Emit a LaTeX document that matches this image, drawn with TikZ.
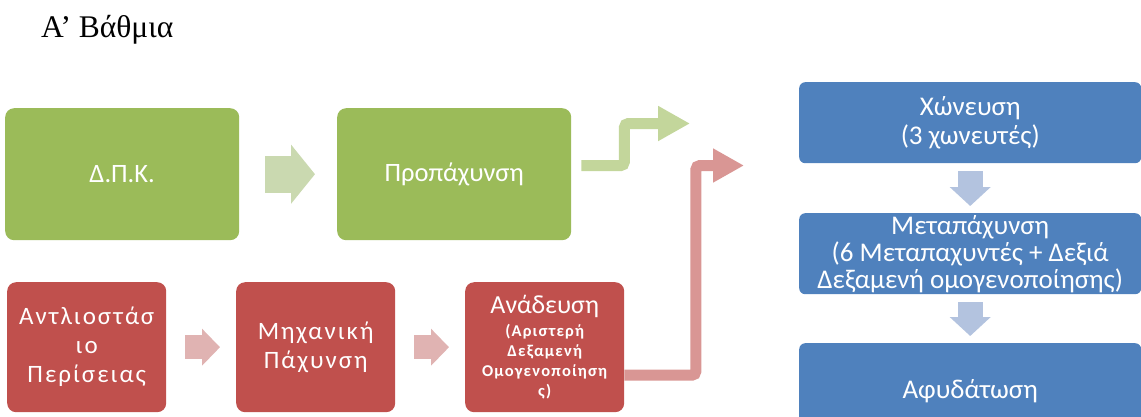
\documentclass[tikz,border=0pt]{standalone}
\usepackage{fontspec}
\setmainfont{Liberation Serif}
\newfontfamily\boxfont{Carlito}
\newfontfamily\spacedfont[LetterSpace=8]{Carlito}
\newfontfamily\smallfont[LetterSpace=7]{Carlito}
\usetikzlibrary{arrows.meta, positioning}
\definecolor{grn}{HTML}{9BBB59}
\definecolor{grnlight}{HTML}{CAD9B0}
\definecolor{grnbent}{HTML}{C3D69B}
\definecolor{rd}{HTML}{C0504D}
\definecolor{rdlight}{HTML}{E0B3B2}
\definecolor{rdbent}{HTML}{D99694}
\definecolor{bl}{HTML}{4F81BD}
\definecolor{bllight}{HTML}{B3C3DF}

\begin{document}
\begin{tikzpicture}[x=1pt, y=-1pt,
	box/.style={rounded corners=9pt, anchor=north west, inner sep=0pt, align=center, text=white, font=\boxfont\fontsize{26.5}{29}\selectfont},
	gbox/.style={box, fill=grn, minimum width=234pt, minimum height=132pt},
	rbox/.style={box, fill=rd, minimum width=159pt, minimum height=130pt, font=\spacedfont\fontsize{25}{29}\selectfont},
	bbox/.style={box, fill=bl, rounded corners=6pt, minimum width=342pt, minimum height=81pt, font=\boxfont\fontsize{27}{29}\selectfont}]

\useasboundingbox (0,0) rectangle (1141,416);

\node[anchor=base west, inner sep=0pt, font=\fontsize{31.5}{34}\selectfont] (title) at (41,37) {Α’ Βάθμια};

% green row
\node[gbox] (dpk) at (5,108) {Δ.Π.Κ.};
\node[gbox] (prop) at (337,108) {Προπάχυνση};

% red row
\node[rbox] (pump) at (7,282) {Αντλιοστάσ\\ιο\\Περίσειας};
\node[rbox] (mech) at (236,282) {Μηχανική\\Πάχυνση};
\node[rbox, font=\smallfont\bfseries\fontsize{16.5}{20}\selectfont] (mix) at (465,282) {{\boxfont\mdseries\fontsize{26}{29}\selectfont Ανάδευση}\\[2.5pt](Αριστερή\\Δεξαμενή\\Ομογενοποίηση\\ς)};

% blue column
\node[bbox] (hon) at (799,82) {Χώνευση\\(3 χωνευτές)};
\node[bbox, font=\boxfont\fontsize{27}{27}\selectfont] (meta) at (799,213) {Μεταπάχυνση\\(6 Μεταπαχυντές + Δεξιά\\Δεξαμενή ομογενοποίησης)};
\node[bbox, minimum height=100pt] (afy) at (799,343) {\raisebox{9pt}{Αφυδάτωση}};

% block arrows
\draw[grnlight, line width=37pt, -{Triangle[length=24pt, width=58pt]}, shorten <=26pt, shorten >=22pt] (dpk) -- (prop);
\draw[rdlight, line width=24pt, -{Triangle[length=18pt, width=36pt]}, shorten <=19pt, shorten >=16pt] (pump) -- (mech);
\draw[rdlight, line width=24pt, -{Triangle[length=18pt, width=36pt]}, shorten <=19pt, shorten >=16pt] (mech) -- (mix);
\draw[bllight, line width=25pt, -{Triangle[length=19pt, width=40pt]}, shorten <=8pt, shorten >=7pt] (hon) -- (meta);
\draw[bllight, line width=25pt, -{Triangle[length=19pt, width=40pt]}, shorten <=8pt, shorten >=7pt] (meta) -- (afy.north -| meta.south);

\coordinate (gtip) at (690,123.5);
\coordinate (rtip) at (744,165.5);
\draw[grnbent, line width=11pt, rounded corners=4pt, -{Triangle[length=32pt, width=33pt]}] ([xshift=10pt, yshift=8.5pt]prop.east) -- ++(43,0) |- (gtip);
\draw[rdbent, line width=11pt, rounded corners=4pt, -{Triangle[length=31pt, width=32pt]}] ([yshift=-28pt]mix.east) -- ++(71.5,0) |- (rtip);

\end{tikzpicture}
\end{document}
